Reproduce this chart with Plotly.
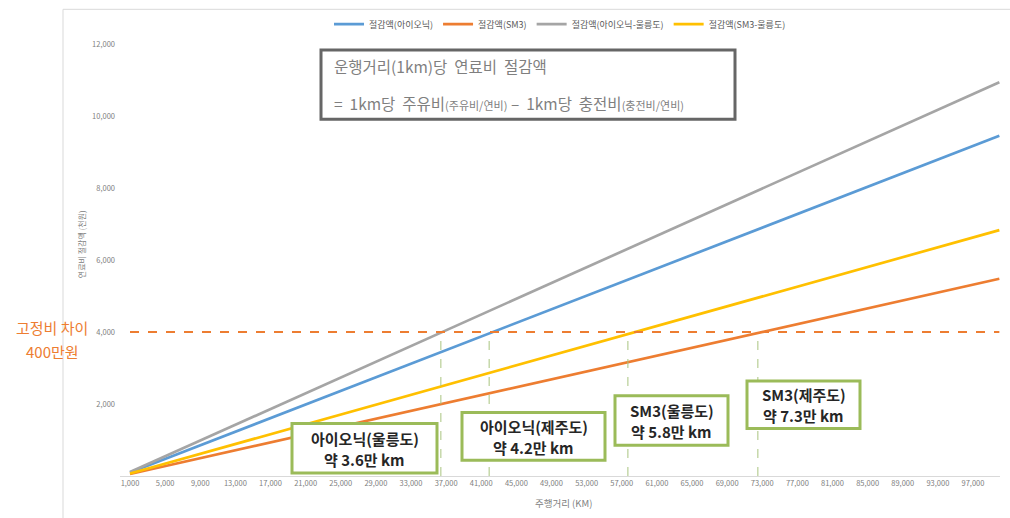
import plotly.graph_objects as go

# ---- data ----
distance_km = [1000, 100000]
saving_ioniq = [95, 9450]
saving_sm3 = [55, 5480]
saving_ioniq_ulleung = [109, 10940]
saving_sm3_ulleung = [68, 6830]

series_names = ["절감액(아이오닉)", "절감액(SM3)", "절감액(아이오닉-울릉도)", "절감액(SM3-울릉도)"]
series_colors = ["#5B9BD5", "#ED7D31", "#A5A5A5", "#FFC000"]

fixed_cost_gap = 4000  # 천원
crossover_km = [36400, 41900, 57700, 72500]
crossover_titles = ["아이오닉(울릉도)", "아이오닉(제주도)", "SM3(울릉도)", "SM3(제주도)"]
crossover_values = ["약 3.6만 km", "약 4.2만 km", "약 5.8만 km", "약 7.3만 km"]

x_tick_values = [1000, 5000, 9000, 13000, 17000, 21000, 25000, 29000, 33000, 37000, 41000, 45000, 49000,
                 53000, 57000, 61000, 65000, 69000, 73000, 77000, 81000, 85000, 89000, 93000, 97000]
x_tick_text = [f"{v:,}" for v in x_tick_values]
y_tick_values = [2000, 4000, 6000, 8000, 10000, 12000]
y_tick_text = [f"{v:,}" for v in y_tick_values]

FONT = "Noto Sans CJK KR"
W, H = 1010, 518
L, R, T, B = 120, 10, 40, 42
PW, PH = W - L - R, H - T - B


def px(x):
    return (x - L) / PW


def py(y):
    return (H - B - y) / PH


fig = go.Figure()
for name, color, vals in zip(series_names, series_colors,
                             [saving_ioniq, saving_sm3, saving_ioniq_ulleung, saving_sm3_ulleung]):
    fig.add_trace(go.Scatter(x=distance_km, y=vals, mode="lines", name=name,
                             line=dict(color=color, width=2.7)))

shapes = []
for km in crossover_km:
    shapes.append(dict(type="line", xref="x", yref="y", x0=km, x1=km, y0=0, y1=fixed_cost_gap,
                       line=dict(color="#A9C47F", width=1, dash="dash"), layer="above"))
shapes.append(dict(type="line", xref="x", yref="y", x0=distance_km[0], x1=distance_km[-1],
                   y0=fixed_cost_gap, y1=fixed_cost_gap,
                   line=dict(color="#ED7D31", width=2, dash="dash"), layer="above"))
shapes.append(dict(type="line", xref="paper", yref="paper", x0=px(63), x1=px(63), y0=py(5), y1=py(520),
                   line=dict(color="#D9D9D9", width=1)))
shapes.append(dict(type="line", xref="paper", yref="paper", x0=px(63), x1=px(1012), y0=py(5), y1=py(5),
                   line=dict(color="#D9D9D9", width=1)))
shapes.append(dict(type="rect", xref="paper", yref="paper", x0=px(321), x1=px(735), y0=py(46), y1=py(116),
                   line=dict(color="#666666", width=3), fillcolor="white", layer="above"))
green_boxes = [(292, 423, 437, 473), (462, 412, 605, 460), (615, 395, 728, 445), (747, 380, 860, 428)]
for (x0, y0, x1, y1) in green_boxes:
    shapes.append(dict(type="rect", xref="paper", yref="paper", x0=px(x0), x1=px(x1), y0=py(y0), y1=py(y1),
                       line=dict(color="#9BBB59", width=3), fillcolor="white", layer="above"))

annotations = []
for (x0, y0, x1, y1), t1, t2 in zip(green_boxes, crossover_titles, crossover_values):
    cx, cy = (x0 + x1) / 2, (y0 + y1) / 2
    for txt, dy in ((t1, -10), (t2, 11)):
        annotations.append(dict(xref="paper", yref="paper", x=px(cx), y=py(cy + dy),
                                text=f"<b>{txt}</b>", showarrow=False, xanchor="center", yanchor="middle",
                                font=dict(family=FONT, size=15, color="#262626")))
annotations.append(dict(xref="paper", yref="paper", x=px(332), y=py(62),
                        text="운행거리(1km)당  연료비  절감액", showarrow=False, xanchor="left", yanchor="middle",
                        font=dict(family=FONT, size=15.5, color="#7F7F7F")))
annotations.append(dict(xref="paper", yref="paper", x=px(332), y=py(100),
                        text="=  1km당  주유비<span style='font-size:11px'>(주유비/연비)</span> –  1km당  충전비<span style='font-size:11px'>(충전비/연비)</span>",
                        showarrow=False, xanchor="left", yanchor="middle",
                        font=dict(family=FONT, size=15.5, color="#7F7F7F")))
annotations.append(dict(xref="paper", yref="paper", x=px(52), y=py(326),
                        text="고정비 차이", showarrow=False, xanchor="center", yanchor="middle",
                        font=dict(family=FONT, size=15, color="#ED7D31")))
annotations.append(dict(xref="paper", yref="paper", x=px(52), y=py(350),
                        text="400만원", showarrow=False, xanchor="center", yanchor="middle",
                        font=dict(family=FONT, size=15, color="#ED7D31")))
annotations.append(dict(xref="paper", yref="paper", x=px(81), y=py(242),
                        text="연료비 절감액 (천원)", showarrow=False, textangle=-90,
                        xanchor="center", yanchor="middle",
                        font=dict(family=FONT, size=8, color="#808080")))
annotations.append(dict(xref="paper", yref="paper", x=px(563), y=py(503),
                        text="주행거리 (KM)", showarrow=False, xanchor="center", yanchor="middle",
                        font=dict(family=FONT, size=9.5, color="#808080")))

x_range = [1000 - (130 - L) / (843 / 96000), 1000 + (W - R - 130) / (843 / 96000)]

fig.update_layout(
    width=W, height=H, margin=dict(l=L, r=R, t=T, b=B),
    paper_bgcolor="white", plot_bgcolor="white",
    font=dict(family=FONT, color="#808080"),
    showlegend=True,
    legend=dict(orientation="h", x=0.5, xanchor="center", y=py(20), yanchor="middle",
                font=dict(family=FONT, size=9, color="#595959"), itemwidth=30,
                tracegroupgap=0, bgcolor="rgba(0,0,0,0)"),
    xaxis=dict(range=x_range, tickvals=x_tick_values, ticktext=x_tick_text, showgrid=False,
               zeroline=False, showline=True, linecolor="#D9D9D9", linewidth=1, ticks="",
               tickfont=dict(family=FONT, size=7.5, color="#808080")),
    yaxis=dict(range=[0, 12000], tickvals=y_tick_values, ticktext=y_tick_text, showgrid=False,
               zeroline=False, showline=False, ticks="", ticklabelstandoff=4,
               tickfont=dict(family=FONT, size=7.5, color="#808080")),
    shapes=shapes, annotations=annotations,
)

fig.write_html("out.html")
